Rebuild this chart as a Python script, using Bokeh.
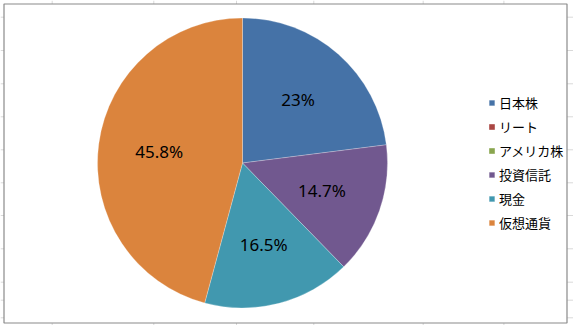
import math
from bokeh.plotting import figure
from bokeh.models import ColumnDataSource, Range1d, Legend, LegendItem
from bokeh.core.properties import value
from bokeh.embed import file_html
from bokeh.resources import INLINE

# ---- data ----
categories = ["日本株", "リート", "アメリカ株", "投資信託", "現金", "仮想通貨"]
shares = [23.0, 0.0, 0.0, 14.7, 16.5, 45.8]
colors = ["#4572A7", "#AA4643", "#89A54E", "#71588F", "#4198AF", "#DB843D"]

# ---- layout (pixels) ----
W, H = 573, 325
CX, CY_TOP = 242, 162.5          # pie centre, measured from top
R = 145
LABEL_FRAC = 0.58

# sheet grid behind the chart
col_lines = [51.7, 153.3, 236, 313.3, 422.7, 503.4]
row_lines = [16.7, 50, 83.3, 116.3, 149.3, 182.3, 215, 248.3, 281.7, 299.7, 317.3]

p = figure(width=W, height=H, output_backend="svg", toolbar_location=None,
           x_range=Range1d(0, W), y_range=Range1d(0, H),
           min_border=0, outline_line_color=None)
p.axis.visible = False
p.grid.visible = False
p.background_fill_color = "white"
p.border_fill_color = "white"

def fy(y_top):
    return H - y_top

# spreadsheet gridlines
p.segment(x0=col_lines, x1=col_lines, y0=[0] * len(col_lines), y1=[H] * len(col_lines),
          line_color="#d9d9d9", line_width=1)
p.segment(x0=[0] * len(row_lines), x1=[W] * len(row_lines),
          y0=[fy(v) for v in row_lines], y1=[fy(v) for v in row_lines],
          line_color="#d9d9d9", line_width=1)

# chart area
p.quad(left=[3.5], right=[566.5], top=[fy(3.5)], bottom=[fy(322.5)],
       fill_color="white", line_color="#8a8a8a", line_width=1.2)

cy = fy(CY_TOP)
total = sum(shares)
cum = 0.0
items = []
lab_x, lab_y, lab_t = [], [], []
for cat, v, c in zip(categories, shares, colors):
    a0 = math.pi / 2 - 2 * math.pi * cum / total
    a1 = math.pi / 2 - 2 * math.pi * (cum + v) / total
    rad = R if v > 0 else 0
    src = ColumnDataSource(dict(x=[CX], y=[cy], s=[a0], e=[a1], r=[rad]))
    if v > 0:
        mid = (a0 + a1) / 2
        lab_x.append(CX + LABEL_FRAC * R * math.cos(mid))
        lab_y.append(cy + LABEL_FRAC * R * math.sin(mid))
        lab_t.append(f"{v:g}%")
    r = p.wedge(x="x", y="y", radius="r", start_angle="s", end_angle="e",
                direction="clock", source=src, fill_color=c,
                line_color="white", line_width=0.5, line_alpha=0.5 if v > 0 else 0)
    items.append(LegendItem(label=cat, renderers=[r]))
    cum += v

p.text(x=lab_x, y=lab_y, text=lab_t, text_align="center", text_baseline="middle",
       text_font=value("Noto Sans"), text_font_size="17px", text_color="#000000")

legend = Legend(items=items, location=(488, 91), orientation="vertical",
                glyph_width=7, glyph_height=7, label_standoff=4,
                label_height=24, spacing=0, padding=0, margin=0,
                border_line_color=None, background_fill_alpha=0,
                label_text_font="Noto Sans CJK JP", label_text_font_size="13px",
                label_text_color="#000000")
p.add_layout(legend)

open("out.html", "w").write(file_html(p, INLINE))
